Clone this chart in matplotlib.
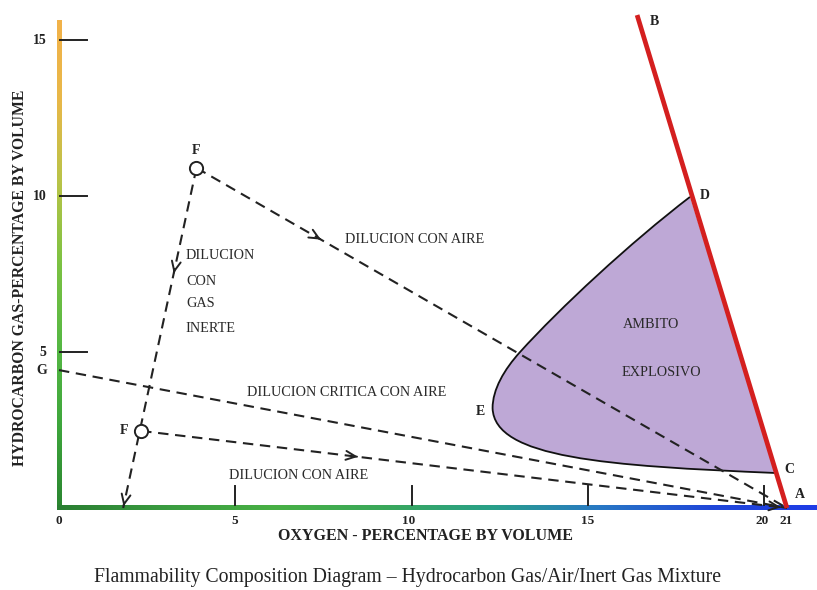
import numpy as np
import matplotlib
matplotlib.use("Agg")
import matplotlib.pyplot as plt
from matplotlib.colors import LinearSegmentedColormap
from matplotlib.patches import PathPatch
from matplotlib.path import Path

# ---- data (oxygen %, hydrocarbon %) ----
x_ticks = [5, 10, 15, 20]
y_ticks = [5, 10, 15]
x_tick_labels = ["0", "5", "10", "15", "20", "21"]
x_tick_label_pos = [0, 4.97, 9.93, 15.0, 19.94, 20.62]

point_A = (20.65, 0.0)
point_B = (16.40, 15.80)
point_C = (20.37, 1.12)
point_D = (17.90, 9.97)
point_E = (12.30, 3.20)
point_G = (0.0, 4.42)
point_F_high = (3.90, 10.90)
point_F_low = (2.33, 2.47)
inert_end = (1.82, 0.0)

# flammable envelope: cubic Bezier vertices D -> E (nose) -> C, closed along B-A
envelope_x = [17.90, 16.20, 14.20, 13.08, 12.63, 12.30, 12.30, 12.35, 15.50, 20.37]
envelope_y = [9.97, 8.50, 6.40, 5.00, 4.44, 3.80, 3.20, 1.60, 1.35, 1.12]

# ---- figure ----
W, H = 817, 590
fig = plt.figure(figsize=(W / 100, H / 100), dpi=100)
ax = fig.add_axes([0, 0, 1, 1])
xpx, ypx = 35.25, 31.2
xlim = (-59 / xpx, (W - 59) / xpx)
ylim = ((508 - H) / ypx, 508 / ypx)
ax.axis("off")

serif = "Liberation Serif"


def gradient_bar(extent, colors, vertical):
    cmap = LinearSegmentedColormap.from_list("bar", colors)
    g = np.linspace(0, 1, 256)
    img = g.reshape(-1, 1) if vertical else g.reshape(1, -1)
    ax.imshow(img, extent=extent, origin="lower", cmap=cmap, aspect="auto",
              interpolation="bilinear", zorder=3)


# axes drawn as coloured bars
gradient_bar([-0.06, 0.06, 0, 15.64],
             ["#2a8530", "#3ea63c", "#56b844", "#7cc242", "#b8c448", "#e8b848", "#f2b24a"],
             vertical=True)
gradient_bar([-0.06, 21.5, -0.08, 0.08],
             ["#2a7e32", "#3a9c40", "#48b044", "#3aa85a", "#28a088", "#2878c4", "#2048d8", "#1e3ce6"],
             vertical=False)
ax.set_xlim(*xlim)
ax.set_ylim(*ylim)

# ticks
for yt in y_ticks:
    ax.plot([0.03, 0.80], [yt, yt], color="#222222", lw=1.4, zorder=4)
for xt in x_ticks:
    ax.plot([xt, xt], [0.1, 0.72], color="#222222", lw=1.4, zorder=4)

tick_font = dict(family=serif, fontweight="bold", fontsize=10, color="#222222")
for yt in y_ticks:
    ax.text(-0.35, yt, str(yt), ha="right", va="center", **tick_font)
ax.text(-0.35, point_G[1], "G", ha="right", va="center", **tick_font)
xt_font = dict(tick_font, fontsize=9.5)
for lab, xp in zip(x_tick_labels, x_tick_label_pos):
    ax.text(xp, -0.42, lab, ha="center", va="center", **xt_font)

# axis titles and caption
ax.text(-1.1, 7.37, "HYDROCARBON GAS-PERCENTAGE BY VOLUME", rotation=90,
        ha="center", va="center", family=serif, fontweight="bold",
        fontsize=11.3, color="#222222")
ax.text(10.39, -0.9, "OXYGEN - PERCENTAGE BY VOLUME", ha="center", va="center",
        family=serif, fontweight="bold", fontsize=11.5, color="#222222")
ax.text(9.9, -2.22, "Flammability Composition Diagram \u2013 Hydrocarbon Gas/Air/Inert Gas Mixture",
        ha="center", va="center", family=serif, fontsize=14.2, color="#222222")

# flammable envelope
verts = list(zip(envelope_x, envelope_y))
codes = [Path.MOVETO] + [Path.CURVE4] * (len(verts) - 1)
boundary = Path(verts, codes)
fill_path = Path(verts + [point_D, point_D],
                 codes + [Path.LINETO, Path.CLOSEPOLY])
ax.add_patch(PathPatch(fill_path, facecolor="#bea8d6", edgecolor="none", zorder=2))
ax.add_patch(PathPatch(boundary, facecolor="none", edgecolor="#111111", lw=1.3, zorder=2.5))

# B-A line
ax.plot([point_B[0], point_A[0]], [point_B[1], point_A[1]], color="#d41f1f",
        lw=3.4, solid_capstyle="butt", zorder=5)

# dashed dilution lines
dash = dict(color="#222222", lw=1.5, linestyle=(0, (5, 3.2)), zorder=4)
for p, q in [(point_F_high, point_A), (point_F_high, inert_end),
             (point_G, point_A), (point_F_low, point_A)]:
    ax.plot([p[0], q[0]], [p[1], q[1]], **dash)


def mid_arrow(p, q, t):
    x = p[0] + (q[0] - p[0]) * t
    y = p[1] + (q[1] - p[1]) * t
    dx = (q[0] - p[0]) * 0.01
    dy = (q[1] - p[1]) * 0.01
    ax.annotate("", xy=(x + dx, y + dy), xytext=(x, y),
                arrowprops=dict(arrowstyle="->,head_length=0.7,head_width=0.32",
                                color="#222222", lw=1.4), zorder=5)


mid_arrow(point_F_high, point_A, 0.205)
mid_arrow(point_F_high, inert_end, 0.30)
mid_arrow(point_F_low, point_A, 0.33)
mid_arrow(point_F_high, inert_end, 0.985)
mid_arrow(point_F_low, point_A, 0.985)

# sample points
for p in (point_F_high, point_F_low):
    ax.plot([p[0]], [p[1]], marker="o", ms=9.5, mfc="white", mec="#222222",
            mew=1.4, zorder=6)

lab_font = dict(family=serif, fontweight="bold", fontsize=10, color="#222222")
ax.text(point_F_high[0], point_F_high[1] + 0.57, "F", ha="center", va="center", **lab_font)
ax.text(point_F_low[0] - 0.48, point_F_low[1], "F", ha="center", va="center", **lab_font)
ax.text(point_A[0] + 0.38, point_A[1] + 0.42, "A", ha="center", va="center", **lab_font)
ax.text(point_B[0] + 0.5, point_B[1] - 0.22, "B", ha="center", va="center", **lab_font)
ax.text(point_C[0] + 0.36, point_C[1] + 0.1, "C", ha="center", va="center", **lab_font)
ax.text(point_D[0] + 0.43, point_D[1] + 0.05, "D", ha="center", va="center", **lab_font)
ax.text(point_E[0] - 0.35, point_E[1] - 0.1, "E", ha="center", va="center", **lab_font)

txt = dict(family=serif, fontsize=10.3, color="#2a2a2a")
ax.text(8.1, 8.6, "DILUCION CON AIRE", ha="left", va="center", **txt)
for w, yy in zip(["DILUCION", "CON", "GAS", "INERTE"], [8.1, 7.25, 6.55, 5.75]):
    ax.text(3.6, yy, w, ha="left", va="center", **txt)
ax.text(5.33, 3.7, "DILUCION CRITICA CON AIRE", ha="left", va="center", **txt)
ax.text(4.82, 1.05, "DILUCION CON AIRE", ha="left", va="center", **txt)
ax.text(16.8, 5.87, "AMBITO", ha="center", va="center", **txt)
ax.text(17.08, 4.33, "EXPLOSIVO", ha="center", va="center", **txt)

fig.savefig("out.png", dpi=100, facecolor="white")
